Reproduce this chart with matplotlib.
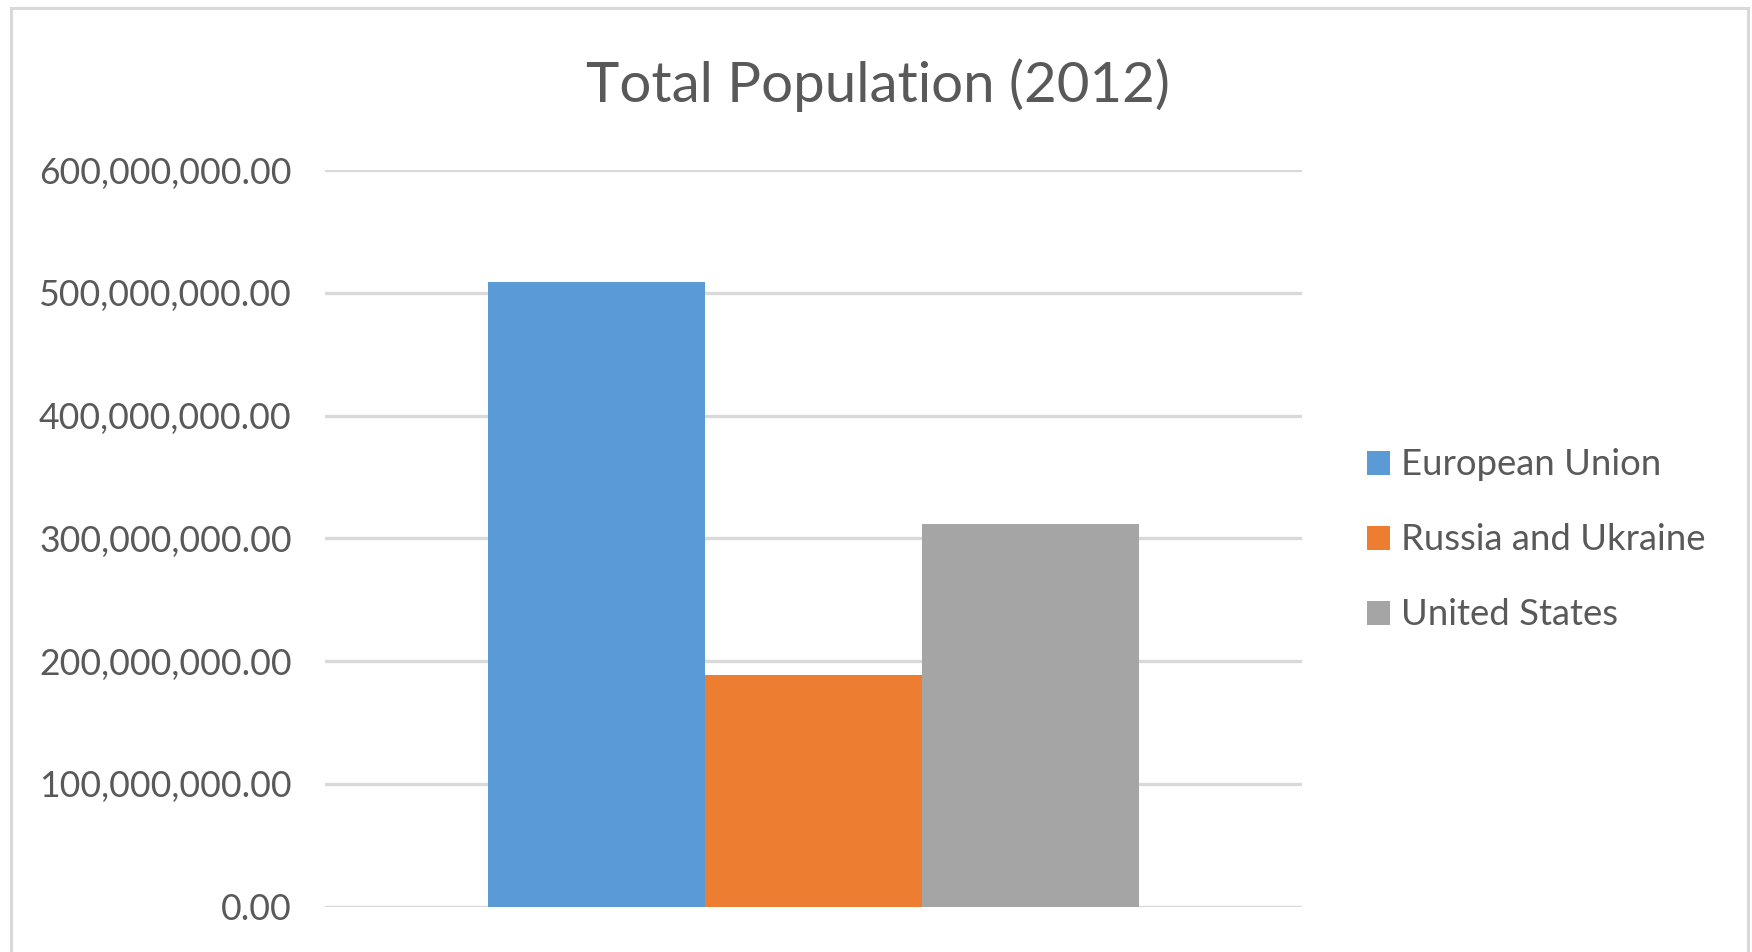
import numpy as np
import matplotlib.pyplot as plt
from matplotlib.patches import Rectangle
from matplotlib.ticker import FuncFormatter

plt.rcParams['font.family'] = ['Lato', 'DejaVu Sans']

regions = ['European Union', 'Russia and Ukraine', 'United States']
population = [509000000, 189000000, 311800000]
colors = ['#5B9BD5', '#ED7D31', '#A5A5A5']
yticks = [0, 100000000, 200000000, 300000000, 400000000, 500000000, 600000000]

text_color = '#595959'
grid_color = '#D9D9D9'

fig = plt.figure(figsize=(17.52, 9.52), dpi=100)
ax = fig.add_axes([0.1855, 0.0476, 0.5577, 0.7738])

width = 0.222
offsets = (np.arange(len(regions)) - 1) * width
for off, val, col, name in zip(offsets, population, colors, regions):
    ax.bar(off, val, width=width, color=col, label=name, zorder=3)

ax.set_xlim(-0.5, 0.5)
ax.set_ylim(0, 600000000)
ax.set_yticks(yticks)
ax.yaxis.set_major_formatter(FuncFormatter(lambda v, p: f"{v:,.2f}"))
ax.set_xticks([])
ax.tick_params(axis='y', length=0, pad=24, labelsize=25.7, labelcolor=text_color)
ax.grid(axis='y', color=grid_color, linewidth=2.4, zorder=0)
for s in ax.spines.values():
    s.set_visible(False)

fig.text(0.501, 0.893, 'Total Population (2012)', ha='center', va='baseline',
         fontsize=40.6, color=text_color)

ax.legend(loc='center left', bbox_to_anchor=(0.7803, 0.4328), bbox_transform=fig.transFigure,
          frameon=False, fontsize=26.3, labelcolor=text_color,
          handlelength=0.63, handleheight=0.63, handletextpad=0.3,
          labelspacing=1.15, borderpad=0, borderaxespad=0)

# outer chart border (open at the bottom, as in the crop)
fig.patches.append(Rectangle((10.5 / 1752, -0.05), (1748 - 10.5) / 1752, 1.05 - 8.3 / 952,
                             transform=fig.transFigure, fill=False,
                             edgecolor=grid_color, linewidth=2.2))

fig.savefig('out.png', dpi=100)
